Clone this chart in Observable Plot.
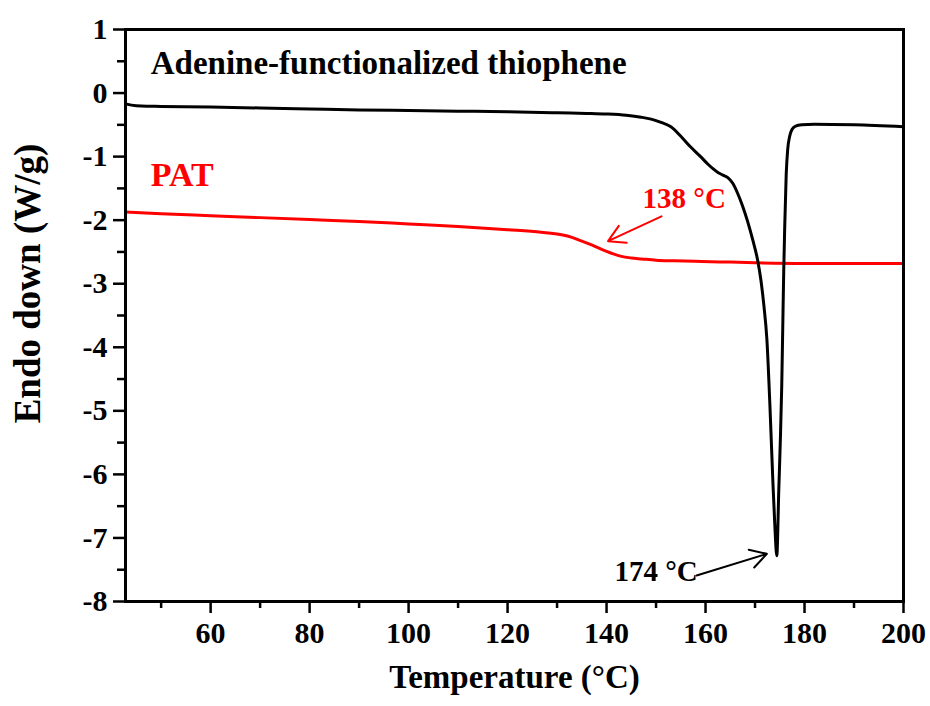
<!DOCTYPE html>
<html><head><meta charset="utf-8">
<script src="https://cdn.jsdelivr.net/npm/d3@7"></script>
<script src="https://cdn.jsdelivr.net/npm/@observablehq/plot@0.6"></script>
<style>body{margin:0;background:#fff}</style>
</head><body><div id="chart"></div>
<script>
// Adenine-functionalized thiophene DSC trace
const adenineT = [42.8, 44, 46, 50, 60, 70, 80, 90, 100, 110, 120, 130, 136, 140, 144, 147, 149, 151, 153, 155, 157, 159, 160.5, 161.5, 162.5, 163.5, 164.5, 165.5, 166.5, 167.5, 168.5, 169.5, 170.5, 171.2, 171.8, 172.4, 173, 173.6, 174, 174.4, 174.8, 175.1, 175.4, 175.6, 175.8, 176, 176.3, 176.6, 177, 177.5, 178.2, 179.5, 182, 190, 200];
const adenineV = [-0.17, -0.19, -0.205, -0.21, -0.22, -0.235, -0.25, -0.265, -0.275, -0.285, -0.295, -0.31, -0.32, -0.33, -0.35, -0.38, -0.41, -0.46, -0.53, -0.68, -0.85, -1.0, -1.12, -1.19, -1.25, -1.29, -1.33, -1.42, -1.58, -1.78, -2.02, -2.3, -2.62, -2.95, -3.35, -3.88, -4.9, -6.1, -6.8, -7.28, -6.25, -5.5, -4.6, -3.7, -2.8, -2.1, -1.28, -0.89, -0.68, -0.57, -0.52, -0.5, -0.49, -0.5, -0.53];
// PAT DSC trace
const patT = [42.8, 50, 60, 70, 80, 90, 100, 110, 120, 126.8, 130.9, 133, 135, 137, 139, 141, 143, 145, 147.1, 150, 153.7, 159.2, 165, 170, 180, 190, 200];
const patV = [-1.87, -1.9, -1.93, -1.96, -1.99, -2.02, -2.06, -2.10, -2.15, -2.19, -2.23, -2.27, -2.33, -2.39, -2.46, -2.52, -2.57, -2.595, -2.61, -2.63, -2.64, -2.65, -2.66, -2.67, -2.68, -2.68, -2.68];

const xTicks = [60, 80, 100, 120, 140, 160, 180, 200];
const xMinorTicks = [50, 70, 90, 110, 130, 150, 170, 190];
const yTicks = [1, 0, -1, -2, -3, -4, -5, -6, -7, -8];
const yMinorTicks = [0.5, -0.5, -1.5, -2.5, -3.5, -4.5, -5.5, -6.5, -7.5];
const xTickLabels = xTicks.map(String);
const yTickLabels = yTicks.map(String);

const xTitle = "Temperature (\u00B0C)";
const yTitle = "Endo down (W/g)";

// annotations (data coordinates)
const seriesLabels = ["Adenine-functionalized thiophene", "PAT"];
const seriesLabelT = [47.9, 47.9];
const seriesLabelV = [0.47, -1.29];
const peakLabels = ["138 \u00B0C", "174 \u00B0C"];
const peakLabelT = [155.7, 150.0];
const peakLabelV = [-1.66, -7.53];
const arrowFromT = [151.1, 158.2];
const arrowFromV = [-1.94, -7.59];
const arrowToT = [140.3, 172.4];
const arrowToV = [-2.33, -7.25];

const FONT = "'Liberation Serif','Times New Roman',serif";
const adenine = adenineT.map((t, i) => ({t, v: adenineV[i]}));
const pat = patT.map((t, i) => ({t, v: patV[i]}));
const colors = ["black", "red"];
const idx = [0, 1];

const chart = Plot.plot({
  width: 930, height: 706,
  marginLeft: 125, marginRight: 27, marginTop: 29, marginBottom: 105,
  x: {domain: [42.8, 200], label: null},
  y: {domain: [-8, 1], label: null},
  style: {fontFamily: FONT, fontWeight: "bold", fontSize: "30px", background: "white", color: "black"},
  marks: [
    Plot.axisX({ticks: xTicks, tickSize: 12, strokeWidth: 2.5, label: null, fill: "none"}),
    Plot.axisX({ticks: xMinorTicks, tickSize: 7, strokeWidth: 2.5, label: null, fill: "none"}),
    Plot.axisY({ticks: yTicks, tickSize: 12, strokeWidth: 2.5, label: null, fill: "none"}),
    Plot.axisY({ticks: yMinorTicks, tickSize: 8, strokeWidth: 2.5, label: null, fill: "none"}),
    Plot.text(xTicks, {x: d => d, frameAnchor: "bottom", lineAnchor: "top", dy: 20, text: (d, i) => xTickLabels[i], fontSize: 30, fontWeight: "bold", fontFamily: FONT}),
    Plot.text(yTicks, {y: d => d, frameAnchor: "left", textAnchor: "end", dx: -18, text: (d, i) => yTickLabels[i], fontSize: 30, fontWeight: "bold", fontFamily: FONT}),
    Plot.line(pat, {x: "t", y: "v", stroke: "red", strokeWidth: 3, curve: "monotone-x"}),
    Plot.line(adenine, {x: "t", y: "v", stroke: "black", strokeWidth: 3, curve: "monotone-x"}),
    Plot.frame({strokeWidth: 3}),
    Plot.text(idx, {x: i => seriesLabelT[i], y: i => seriesLabelV[i], text: i => seriesLabels[i], fill: i => colors[i], textAnchor: "start", fontSize: i => i === 0 ? 33 : 34, fontWeight: "bold", fontFamily: FONT}),
    Plot.text(idx, {x: i => peakLabelT[i], y: i => peakLabelV[i], text: i => peakLabels[i], fill: i => colors[1 - i], textAnchor: "middle", fontSize: 29, fontWeight: "bold", fontFamily: FONT}),
    Plot.arrow(idx, {x1: i => arrowFromT[i], y1: i => arrowFromV[i], x2: i => arrowToT[i], y2: i => arrowToV[i], stroke: i => colors[1 - i], strokeWidth: 2, headLength: 14}),
    Plot.text([xTitle], {frameAnchor: "bottom", dy: 86, fontSize: 33, fontWeight: "bold", fontFamily: FONT, text: d => d}),
    Plot.text([yTitle], {frameAnchor: "left", textAnchor: "middle", dx: -97, dy: -32, rotate: -90, fontSize: 37, fontWeight: "bold", fontFamily: FONT, text: d => d})
  ]
});
document.getElementById("chart").append(chart);
</script>
</body></html>
